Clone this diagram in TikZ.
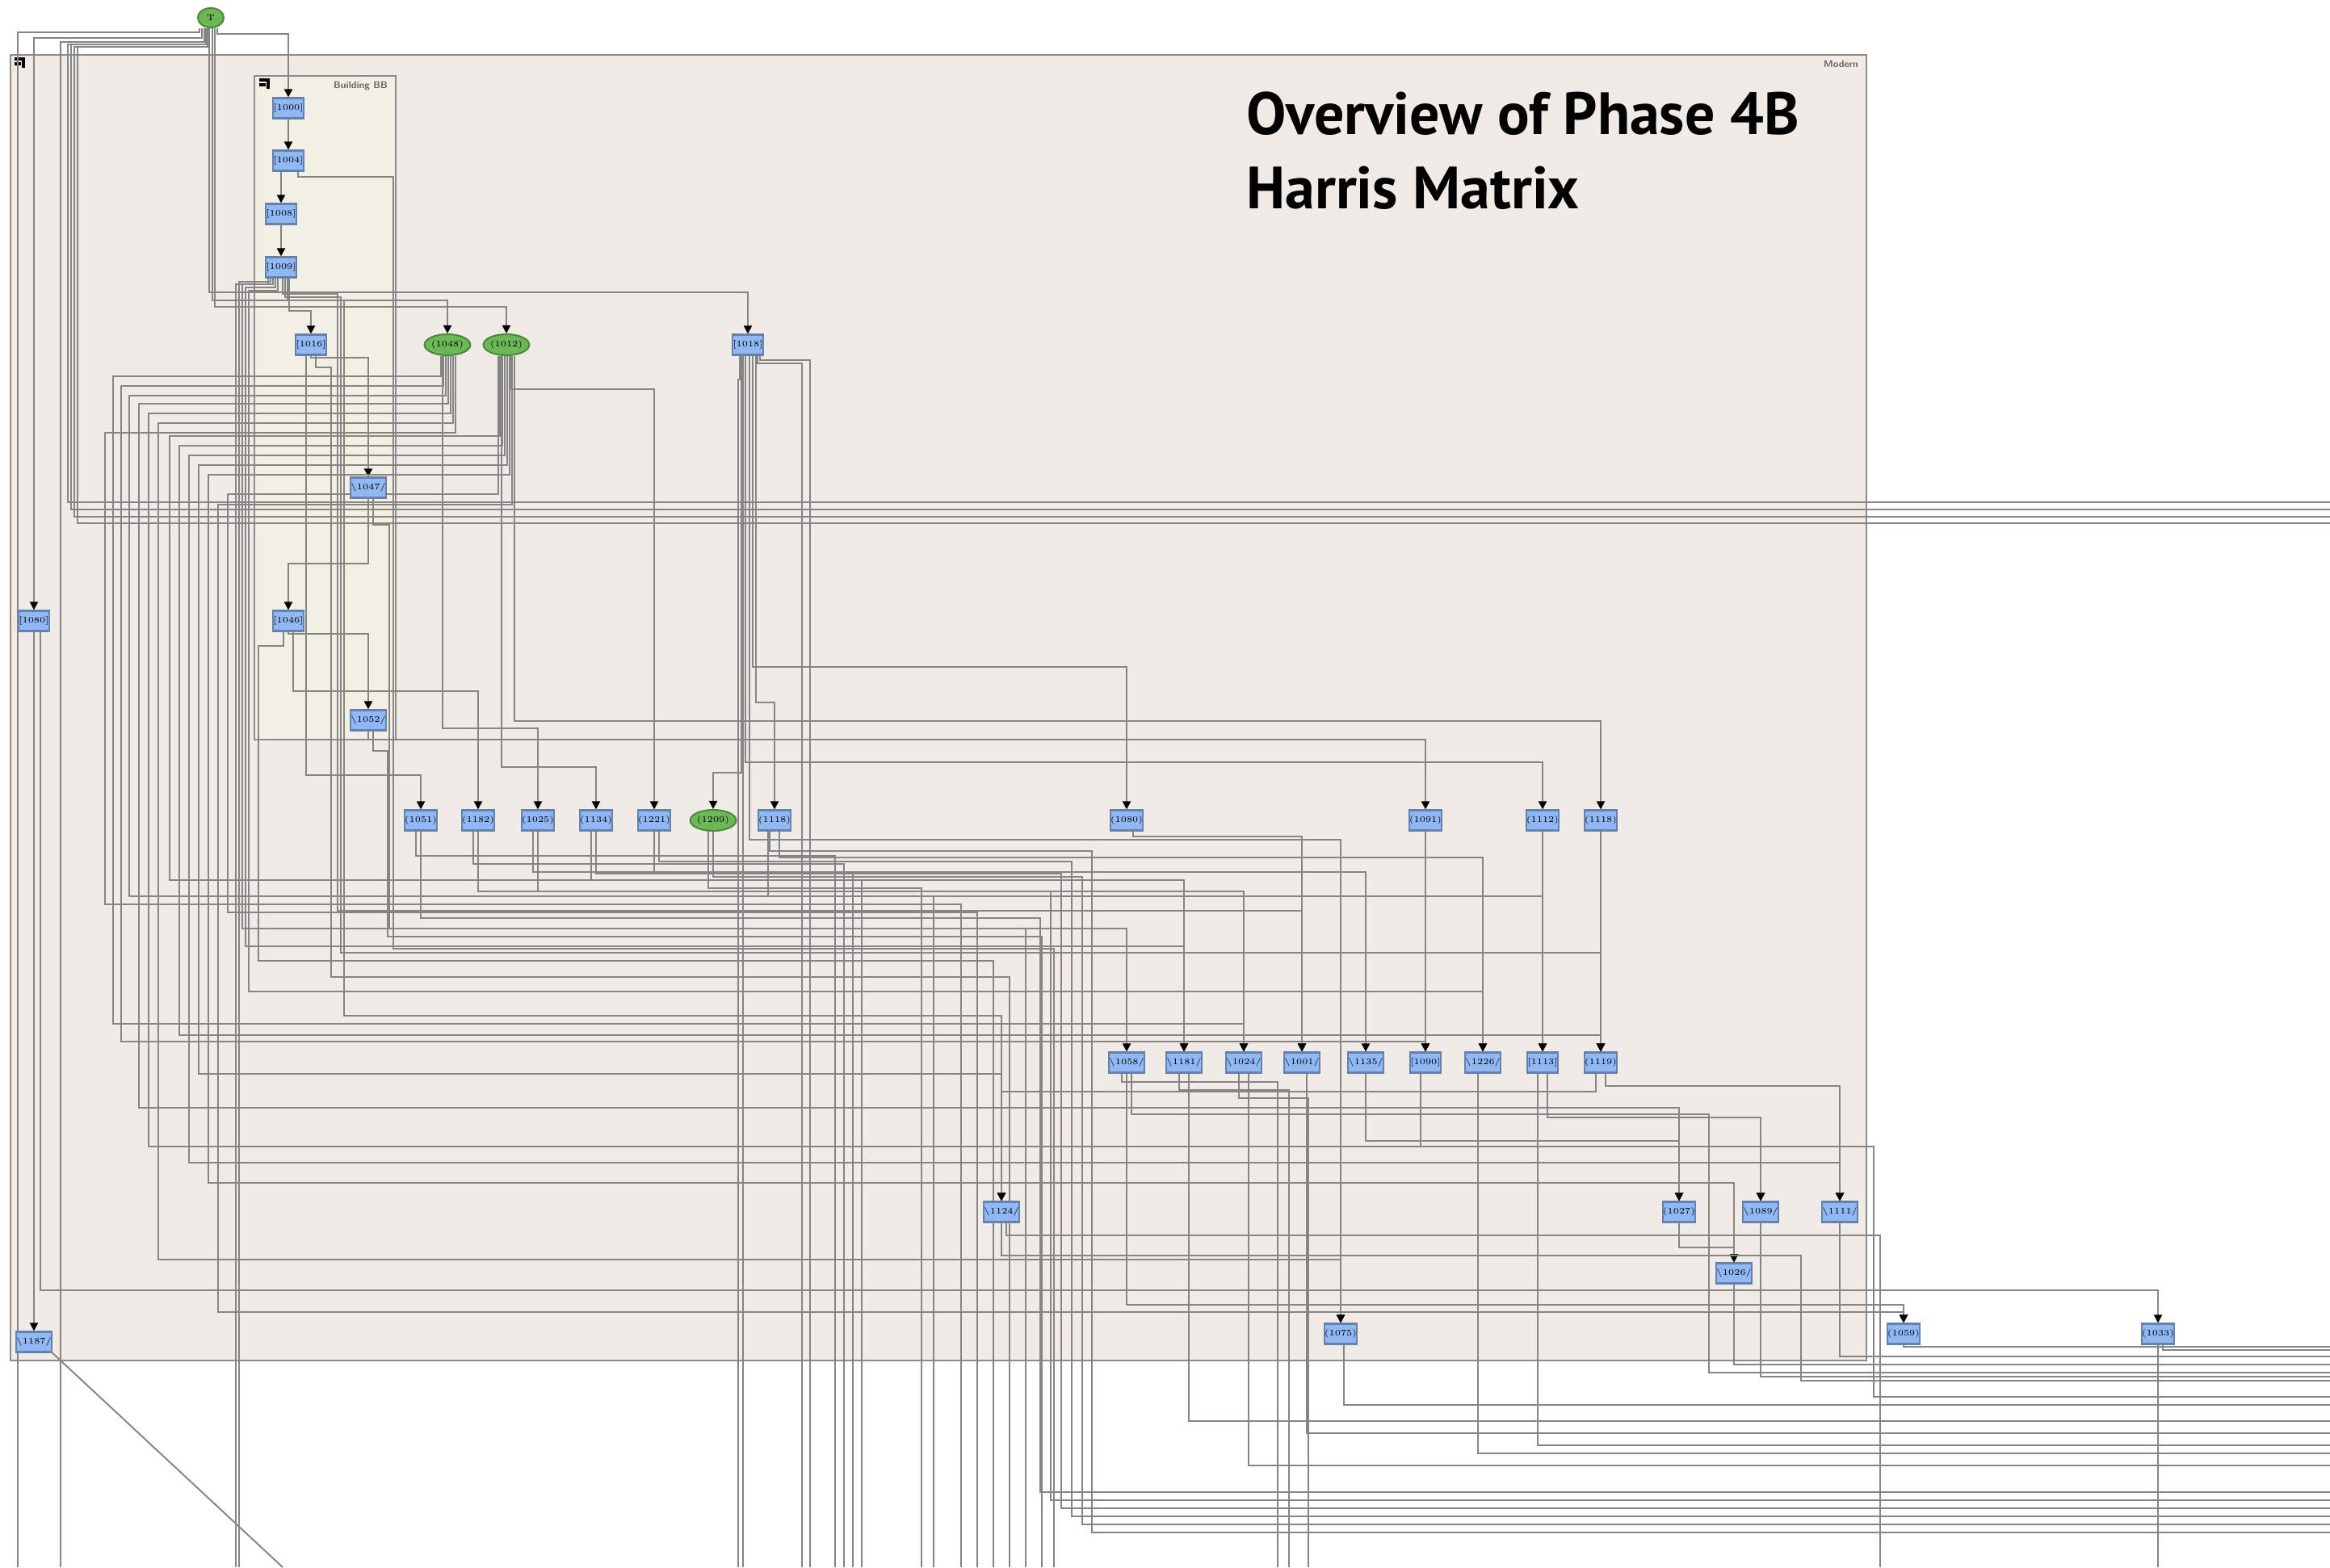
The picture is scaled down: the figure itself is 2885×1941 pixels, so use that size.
\documentclass[tikz,border=0pt]{standalone}
\usepackage{fontspec}
\newfontfamily\titlefont{PT Sans}
\usetikzlibrary{arrows.meta,shapes.geometric}

\definecolor{ctxfill}{HTML}{90B8F4}
\definecolor{ctxline}{HTML}{6682AC}
\definecolor{grpfill}{HTML}{6CB856}
\definecolor{grpline}{HTML}{4C8A3C}
\definecolor{modernbg}{HTML}{F0EBE6}
\definecolor{bldbg}{HTML}{F2F0E5}
\definecolor{wiregray}{HTML}{858585}

\pgfdeclarelayer{frames}
\pgfdeclarelayer{wires}
\pgfsetlayers{frames,wires,main}

\tikzset{
  ctx/.style={draw=ctxline, fill=ctxfill, line width=0.6pt, minimum width=0.38cm,
    minimum height=0.25cm, inner sep=0pt, font=\fontsize{3}{3}\selectfont},
  grp/.style={ellipse, draw=grpline, fill=grpfill, line width=0.6pt, minimum width=0.40cm,
    minimum height=0.26cm, inner sep=0pt, font=\fontsize{3}{3}\selectfont},
  link/.style={draw=wiregray, line width=0.55pt, -{Triangle[length=1mm,width=1mm,color=black]}},
  wire/.style={draw=wiregray, line width=0.55pt},
  frame/.style={draw=black!45, line width=0.7pt},
  framelbl/.style={anchor=north east, inner sep=1pt, text=black!60, font=\sffamily\bfseries\fontsize{3.4}{4}\selectfont},
}

\begin{document}
\begin{tikzpicture}[x=0.01cm, y=-0.01cm]
  \useasboundingbox (0,0) rectangle (2885,1941);
  \coordinate (edgeR) at (2885,0);
  \coordinate (floor) at (0,1941);

  % groups
  \begin{pgfonlayer}{frames}
    \fill[white] (0,0) rectangle (2885,1941);
    \draw[frame, fill=modernbg] (13,68) rectangle (2311,1685);
    \draw[frame, fill=bldbg] (315,94) rectangle (490,916);
    \draw[line width=1.2pt] (18,73) -- (29,73) -- (29,84) (18,79) -- (26,79);
    \draw[line width=1.2pt] (321,99) -- (332,99) -- (332,110) (321,105) -- (329,105);
  \end{pgfonlayer}
  \node[framelbl] (modern) at (2305,71) {Modern};
  \node[framelbl] (bldg) at (484,97) {Building BB};

  \node[anchor=base west, font=\titlefont\bfseries\fontsize{21}{21}\selectfont] (title1) at (1531,166) {Overview of Phase 4B};
  \node[anchor=base west, font=\titlefont\bfseries\fontsize{21}{21}\selectfont] (title2) at (1531,258) {Harris Matrix};

  % units
  \node[grp, minimum width=0.32cm, minimum height=0.24cm] (t) at (261,22) {T};
  \node[ctx] (b1) at (357,134) {[1000]};
  \node[ctx] (b2) at (357,199) {[1004]};
  \node[ctx] (b3) at (348,265) {[1008]};
  \node[ctx] (b4) at (348,331) {[1009]};
  \node[ctx] (b5) at (385,427) {[1016]};
  \node[ctx] (b6) at (456,604) {\textbackslash 1047/};
  \node[ctx] (b7) at (357,769) {[1046]};
  \node[ctx] (b8) at (456,892) {\textbackslash 1052/};
  \node[grp] (e1) at (554,427) {(1048)};
  \node[grp] (e2) at (627,427) {(1012)};
  \node[ctx] (c1) at (926,427) {[1018]};
  \node[ctx] (l1) at (42,769) {[1080]};
  \node[ctx] (l2) at (42,1662) {\textbackslash 1187/};

  \node[ctx] (r1a) at (521,1016) {(1051)};
  \node[ctx] (r1b) at (592,1016) {(1182)};
  \node[ctx] (r1c) at (666,1016) {(1025)};
  \node[ctx] (r1d) at (738,1016) {(1134)};
  \node[ctx] (r1e) at (810,1016) {(1221)};
  \node[grp] (r1f) at (883,1016) {(1209)};
  \node[ctx] (r1g) at (959,1016) {(1118)};
  \node[ctx] (r1h) at (1395,1016) {(1080)};
  \node[ctx] (r1i) at (1765,1016) {(1091)};
  \node[ctx] (r1j) at (1910,1016) {(1112)};
  \node[ctx] (r1k) at (1982,1016) {(1118)};

  \node[ctx] (r2a) at (1395,1316) {\textbackslash 1058/};
  \node[ctx] (r2b) at (1466,1316) {\textbackslash 1181/};
  \node[ctx] (r2c) at (1540,1316) {\textbackslash 1024/};
  \node[ctx] (r2d) at (1612,1316) {\textbackslash 1001/};
  \node[ctx] (r2e) at (1691,1316) {\textbackslash 1135/};
  \node[ctx] (r2f) at (1765,1316) {[1090]};
  \node[ctx] (r2g) at (1836,1316) {\textbackslash 1226/};
  \node[ctx] (r2h) at (1910,1316) {[1113]};
  \node[ctx] (r2i) at (1982,1316) {(1119)};

  \node[ctx] (r3a) at (1240,1501) {\textbackslash 1124/};
  \node[ctx] (r3b) at (2079,1501) {(1027)};
  \node[ctx] (r3c) at (2180,1501) {\textbackslash 1089/};
  \node[ctx] (r3d) at (2278,1501) {\textbackslash 1111/};
  \node[ctx] (r3e) at (2147,1577) {\textbackslash 1026/};
  \node[ctx] (r4a) at (1660,1652) {(1075)};
  \node[ctx] (r4b) at (2357,1652) {(1059)};
  \node[ctx] (r4c) at (2672,1652) {(1033)};

  \begin{pgfonlayer}{wires}
    % stratigraphic links, one bend
    \foreach \s/\a/\lv/\t in {t/8/42/b1, b1/0/165/b2, b2/-9/232/b3, b3/0/298/b4,
        b4/10/385/b5, b5/0/443/b6, b6/0/698/b7, b7/0/785/b8, t/-11/47/l1, l1/0/1210/l2,
        t/-2/362/c1, t/2/372/e1, t/5/380/e2,
        b5/-6/960/r1a, b7/6/856/r1b, e1/-6/902/r1c, e2/-6/950/r1d, e2/6/482/r1e,
        c1/-8/957/r1f, c1/10/870/r1g, c1/6/826/r1h, b8/0/916/r1i, c1/-3/944/r1j, e2/10/893/r1k,
        r1h/8/1036/r2d, r1c/0/1104/r2c, r1e/0/1080/r2e, r1i/0/1200/r2f, r1g/6/1062/r2g,
        r1j/0/1200/r2h, r1k/0/1040/r2i, r2i/-6/1352/r3a, r2e/0/1413/r3b, r2h/6/1384/r3c,
        r2i/6/1345/r3d, r3b/0/1545/r3e, c1/2/1040/r4a, r2a/0/1616/r4b, l1/8/1598/r4c}
      \draw[link] ([xshift=\a*0.1mm]\s.south) |- (\t.north |- 0,\lv) -- (\t.north);

    % links through the side channels
    \foreach \s/\a/\la/\xx/\lb/\t in {b4/-10/352/300/1150/r2a, b4/-7/356/304/1172/r2b,
        b4/-4/360/308/1228/r2g, b4/2/364/418/1128/r2d, b4/5/368/422/1180/r2i,
        b4/8/372/426/1258/r3a,
        e1/-8/466/140/1268/r2c, e1/-5/478/150/1290/r2f, e1/-2/490/160/1110/r2h,
        e1/1/500/172/1372/r3b, e1/4/512/184/1420/r3c, e1/7/524/196/1560/r4a,
        e2/-8/540/210/1090/r2b, e2/-5/552/222/1282/r2i, e2/-2/564/234/1440/r3d,
        e2/1/576/246/1330/r3a, e2/4/588/258/1465/r3e, e2/7/625/270/1625/r4b}
      \draw[link] ([xshift=\a*0.1mm]\s.south) |- (\xx,\la) |- (\t.north |- 0,\lb) -- (\t.north);

    % links leaving to the right
    \foreach \s/\a/\lv in {r4b/0/1668, r4c/6/1672, r4a/4/1740, r3e/0/1690, r3c/0/1705,
        r3d/0/1680, r2b/6/1760, r2d/6/1775, r2g/-6/1800, r2h/-6/1790, r2c/6/1815}
      \draw[wire] ([xshift=\a*0.1mm]\s.south) |- (edgeR |- 0,\lv);
    \foreach \s/\a/\la/\xx/\lb in {t/-6/55/84/622, t/-6/55/88/631, t/-4/58/92/640,
        t/-4/58/96/648, r1a/0/1137/1288/1848, r1b/0/1104/1301/1858,
        r1d/0/1082/1314/1868, r1e/6/1067/1327/1878, r1f/0/1086/1340/1888,
        r1g/-6/1054/1352/1898, r2a/6/1380/2116/1700, r2f/-6/1420/2320/1730,
        r3a/0/1555/2230/1710}
      \draw[wire] ([xshift=\a*0.1mm]\s.south) |- (\xx,\la) |- (edgeR |- 0,\lb);

    % links leaving at the bottom
    \foreach \s/\a/\lv/\X in {t/-14/40/22, t/-8/52/75, b4/-13/349/296, b4/-16/352/292,
        c1/-10/470/914, c1/-6/470/920, c1/12/450/993, c1/15/446/1003,
        r1a/-6/1060/1034, r1b/-6/1070/1045, r1c/-6/1080/1056, r1d/-6/1090/1067,
        r1f/-6/1100/1141, r1g/-8/1110/1156, r2a/-6/1340/1582, r2b/-6/1350/1596,
        r2c/-6/1360/1620, r3a/6/1530/2328, r4c/0/1700/2672}
      \draw[wire] ([xshift=\a*0.1mm]\s.south) |- (\X,\lv) -- (floor -| \X,0);
    \foreach \s/\a/\la/\xx/\lb/\X in {e1/10/536/130/1120/1190, e2/-10/612/282/1130/1210,
        b7/-6/800/320/1190/1230, b5/6/455/410/1210/1250, b6/6/650/482/1150/1270,
        b8/6/930/480/1160/1290, b2/12/219/487/1175/1305}
      \draw[wire] ([xshift=\a*0.1mm]\s.south) |- (\xx,\la) |- (\X,\lb) -- (floor -| \X,0);
    \draw[wire] (l2.south east) -- (floor -| 350,0);
  \end{pgfonlayer}
\end{tikzpicture}
\end{document}
